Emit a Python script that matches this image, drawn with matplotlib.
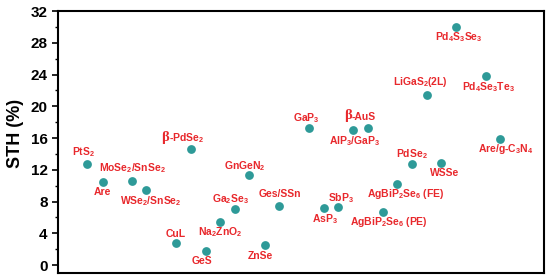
import matplotlib
matplotlib.use("Agg")
import matplotlib.pyplot as plt
from matplotlib.ticker import MultipleLocator

plt.rcParams['font.family'] = ['Liberation Sans', 'DejaVu Sans']
plt.rcParams['mathtext.default'] = 'bf'
plt.rcParams['mathtext.fontset'] = 'custom'
plt.rcParams['mathtext.bf'] = 'Liberation Sans:bold'
plt.rcParams['mathtext.rm'] = 'Liberation Sans:bold'

labels = [r"PtS$_2$", "Are", r"MoSe$_2$/SnSe$_2$", r"WSe$_2$/SnSe$_2$", r"CuL",
          r"β-PdSe$_2$", "GeS", r"Na$_2$ZnO$_2$", r"Ga$_2$Se$_3$", r"GnGeN$_2$",
          "ZnSe", "Ges/SSn", r"GaP$_3$", r"AsP$_3$", r"SbP$_3$", r"AlP$_3$/GaP$_3$",
          r"β-AuS", r"AgBiP$_2$Se$_6$ (PE)", r"AgBiP$_2$Se$_6$ (FE)", r"PdSe$_2$",
          r"LiGaS$_2$(2L)", "WSSe", r"Pd$_4$S$_3$Se$_3$", r"Pd$_4$Se$_3$Te$_3$",
          r"Are/g-C$_3$N$_4$"]
x_pos = [6.0, 9.2, 15.2, 18.2, 24.3, 27.4, 30.5, 33.4, 36.5, 39.4, 42.6, 45.5,
         51.6, 54.7, 57.7, 60.8, 63.7, 66.8, 69.8, 72.9, 75.9, 78.9, 82.0, 88.1, 91.0]
sth = [12.7, 10.4, 10.6, 9.4, 2.8, 14.6, 1.8, 5.4, 7.1, 11.3, 2.5, 7.5,
       17.3, 7.2, 7.3, 17.0, 17.3, 6.7, 10.2, 12.7, 21.4, 12.8, 30.0, 23.8, 15.9]
# label offsets in pixels (dx, dy); for β labels dx is the split point
offsets = [(-4, 12), (0, -10), (1, 13), (4, -11), (0, 9), (-22, 11), (-4, -10), (0, -10),
           (-5, 10), (-5, 9), (-5, -11), (1, 12), (-2, 10), (1, -11), (3, 9), (1, -11),
           (-16, 11), (6, -10), (8, -10), (0, 10), (-6, 13), (3, -10), (2, -10), (2, -11),
           (6, -10)]

fig = plt.figure(figsize=(5.5, 2.78), dpi=100)
ax = fig.add_axes([0.1055, 0.018, 0.8835, 0.9424])

ax.scatter(x_pos, sth, s=40, color='#2e9a98', zorder=3, linewidths=0)
red = '#e8282c'
for lab, x, y, (dx, dy) in zip(labels, x_pos, sth, offsets):
    if lab.startswith('β'):
        ax.annotate('β', (x, y), xytext=(dx * 0.72, (dy + 1) * 0.72), textcoords='offset points',
                    ha='right', va='center', color=red, fontsize=10.5, fontweight='bold',
                    family=['Liberation Serif'])
        ax.annotate(lab[1:], (x, y), xytext=(dx * 0.72, dy * 0.72), textcoords='offset points',
                    ha='left', va='center', color=red, fontsize=7.5, fontweight='bold')
    else:
        ax.annotate(lab, (x, y), xytext=(dx * 0.72, dy * 0.72), textcoords='offset points',
                    ha='center', va='center', color=red, fontsize=7.5, fontweight='bold')

ax.set_xlim(0, 100)
ax.set_ylim(-1, 32)
ax.yaxis.set_major_locator(MultipleLocator(4))
ax.yaxis.set_minor_locator(MultipleLocator(2))
ax.set_xticks([])
ax.tick_params(axis='y', which='major', direction='out', length=4, width=1.2,
               labelsize=11)
ax.tick_params(axis='y', which='minor', direction='out', length=2, width=1.0)
for t in ax.get_yticklabels():
    t.set_fontweight('bold')
for sp in ax.spines.values():
    sp.set_linewidth(1.5)
ax.set_ylabel("STH (%)", fontsize=13, fontweight='bold', labelpad=3)
ax.yaxis.set_label_coords(-0.07, 0.534)

fig.savefig("out.png", dpi=100)
